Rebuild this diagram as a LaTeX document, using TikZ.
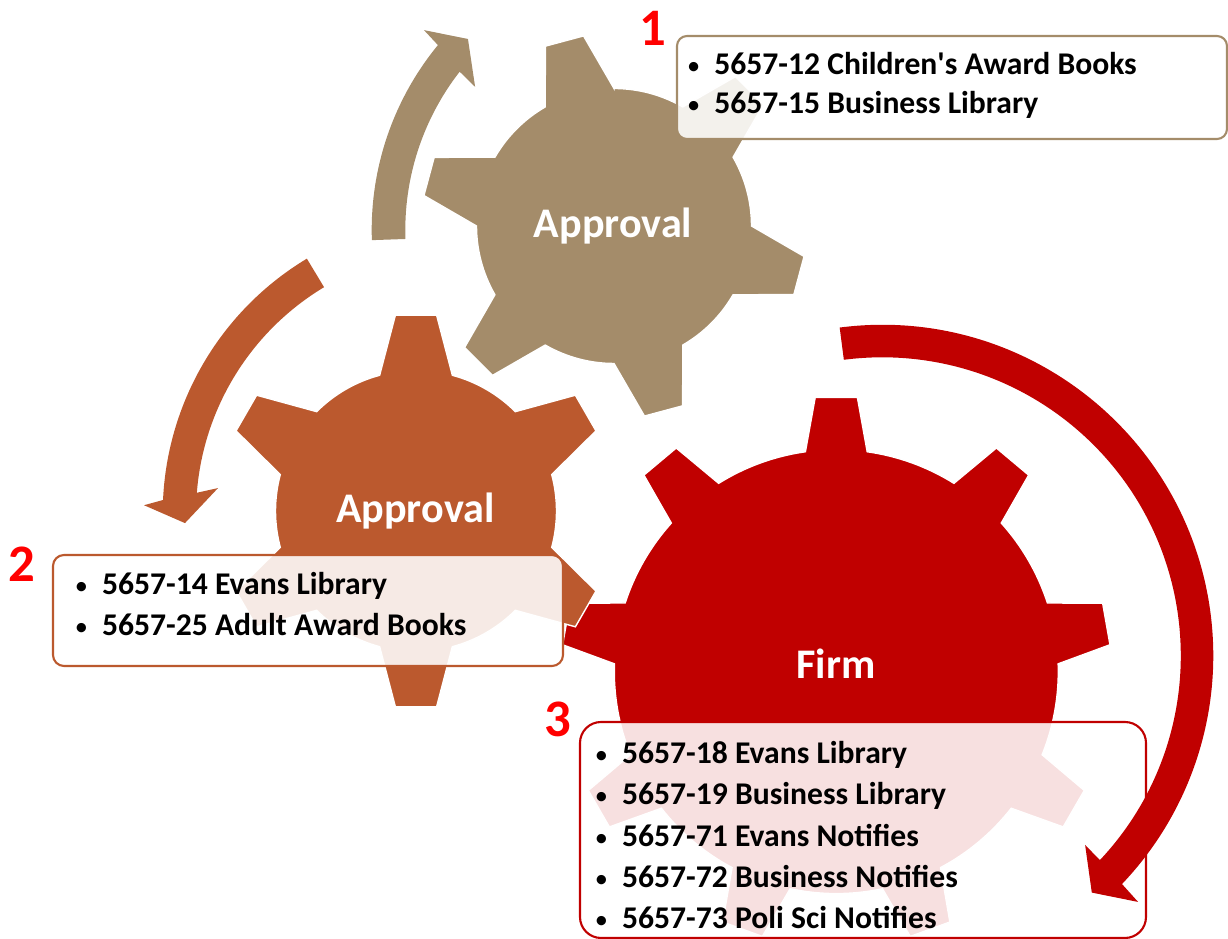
\documentclass[tikz,border=0pt]{standalone}
\usepackage{fontspec}
\setmainfont{Carlito}
\definecolor{geartan}{RGB}{164,140,106}
\definecolor{gearorange}{RGB}{187,89,46}
\definecolor{gearred}{RGB}{192,0,0}
\definecolor{numred}{RGB}{255,0,0}
% gear outline: first tooth, second tooth, last tooth, body radius, tip radius, base half angle, tip half angle
\newcommand{\gearpath}[7]{(#1-#6:#4) \foreach \a in {#1,#2,...,#3}{ -- (\a-#7:#5) -- (\a+#7:#5) -- (\a+#6:#4) arc[start angle=\a+#6, end angle=\a+#2-#1-#6, radius=#4]} -- cycle}
\newcommand{\bul}{\llap{{\mdseries\fontsize{15}{15}\selectfont\textbullet}\hspace{8pt}}}
\begin{document}
\begin{tikzpicture}[x=0.02cm, y=0.02cm,
    gear/.style={fill=#1, draw=white, line width=0.8pt},
    turn/.style={fill=#1},
    listbox/.style={draw=#1, fill=white, fill opacity=0.88, line width=1.2pt},
    gearname/.style={text=white, font=\bfseries\fontsize{24}{28}\selectfont, anchor=base, inner sep=0pt},
    item/.style={font=\bfseries\fontsize{18}{22}\selectfont, anchor=base west, inner sep=0pt},
    stepno/.style={text=numred, font=\bfseries\fontsize{30}{36}\selectfont, anchor=base, inner sep=0pt}]
  \useasboundingbox (0,0) rectangle (1228,939);

  % GEARS
  % firm gear, nine teeth
  \fill[gear=gearred, shift={(836.3,267.4)}] \gearpath{10}{50}{330}{222}{275}{8}{4.4};
  % lower approval gear
  \fill[gear=gearorange, shift={(416,428)}] \gearpath{90}{150}{390}{140.5}{197}{15}{6};
  % upper approval gear
  \fill[gear=geartan, shift={(614,713)}] \gearpath{105}{165}{405}{137.5}{192.5}{15}{5.9};

  \node[gearname] (g1name) at (613,701.3) {Approval};
  \node[gearname] (g2name) at (415.3,416.3) {Approval};
  \node[gearname] (g3name) at (836,260.7) {Firm};

  % LIST BOXES
  \draw[listbox=geartan, rounded corners=0.2cm] (677,800) rectangle (1227,903);
  \draw[listbox=gearorange, rounded corners=0.22cm] (53,273) rectangle (563,384);
  \draw[listbox=gearred, rounded corners=0.42cm] (580,1) rectangle (1146,217);

  % box 1
  \node[item] (b1a) at (714,864) {\bul 5657-12 Children\textquotesingle s Award Books};
  \node[item] (b1b) at (714,825) {\bul 5657-15 Business Library};
  % box 2
  \node[item] (b2a) at (101.7,344) {\bul 5657-14 Evans Library};
  \node[item] (b2b) at (101.7,303.3) {\bul 5657-25 Adult Award Books};
  % box 3
  \node[item] (b3a) at (621.7,175) {\bul 5657-18 Evans Library};
  \node[item] (b3b) at (621.7,134) {\bul 5657-19 Business Library};
  \node[item] (b3c) at (621.7,92.3) {\bul 5657-71 Evans Notifies};
  \node[item] (b3d) at (621.7,51) {\bul 5657-72 Business Notifies};
  \node[item] (b3e) at (621.7,10) {\bul 5657-73 Poli Sci Notifies};

  % NUMBERS
  \node[stepno] (n1) at (652.5,893.3) {1};
  \node[stepno] (n2) at (22,357) {2};
  \node[stepno] (n3) at (558,202.3) {3};

  % ARROWS
  \fill[turn=geartan, shift={(663,709)}] (182:291.3) arc[start angle=182, end angle=140.6, radius=291.3]
    -- (140.1:311.6) -- (135.6:273) -- (142.7:236.2) -- (142.1:257.7)
    arc[start angle=142.1, end angle=182, radius=257.7] -- cycle;
  \fill[turn=gearorange, shift={(460,425.5)}] (121:297.3) arc[start angle=121, end angle=177.4, radius=297.3]
    -- (178.5:316.1) -- (182:275.2) -- (174:243.3) -- (175.5:264)
    arc[start angle=175.5, end angle=121, radius=264] -- cycle;
  \fill[turn=gearred, shift={(882.3,283.2)}] (97.4:331) arc[start angle=97.4, end angle=-43.6, radius=331]
    -- (-43.9:355) -- (-48.5:316.2) -- (-43:277.3) -- (-43.2:298.5)
    arc[start angle=-43.2, end angle=97.4, radius=298.5] -- cycle;
\end{tikzpicture}
\end{document}
